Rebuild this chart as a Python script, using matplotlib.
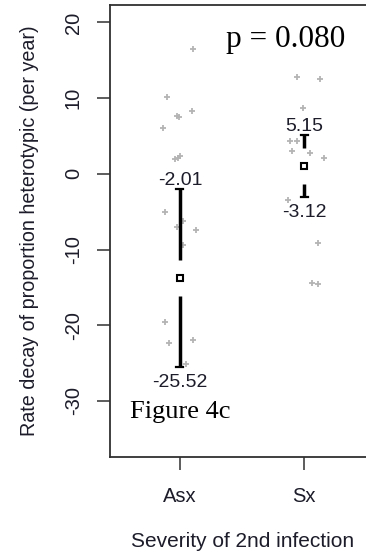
import numpy as np
import matplotlib.pyplot as plt

# Rate of decay of heterotypic proportion, by severity of 2nd infection
groups = ['Asx', 'Sx']
asx_rates = [16.5, 10.2, 7.7, 7.5, 8.3, 6.1, 2.0, 2.3, 2.1,
             -5.0, -6.2, -7.0, -7.4, -9.4, -19.6, -22.4, -21.9, -25.1]
asx_jitter = [0.107, -0.107, -0.027, -0.008, 0.094, -0.134, -0.04, 0.0, -0.016,
              -0.12, 0.022, -0.027, 0.129, 0.022, -0.12, -0.088, 0.107, 0.048]
sx_rates = [12.8, 12.5, 8.7, 4.4, 4.4, 3.0, 2.8, 2.1, -3.4, -9.1, -14.4, -14.6]
sx_jitter = [-0.061, 0.126, -0.013, -0.115, -0.061, -0.101, 0.048, 0.156,
             -0.135, 0.113, 0.06, 0.113]

ci_mean = [-13.77, 1.02]
ci_upper = [-2.01, 5.15]
ci_lower = [-25.52, -3.12]
p_value = 0.080

W, H = 366, 558
fig = plt.figure(figsize=(W / 100, H / 100), dpi=100)
# plot region in pixels: left 110, top 5, bottom 457 (right edge runs off the page)
ax = fig.add_axes([110 / W, (H - 457) / H, 264.3 / W, 452 / H])
ax.set_xlim(0.437, 2.563)
ax.set_ylim(-37.4, 22.3)

txt_col = '#1c1c2a'
for s in ax.spines.values():
    s.set_linewidth(1.3)
    s.set_color('#303030')

# jittered raw points
for i, (vals, jit) in enumerate([(asx_rates, asx_jitter), (sx_rates, sx_jitter)]):
    xs = np.array(jit) + i + 1
    ax.plot(xs, vals, linestyle='none', marker='+', markersize=5,
            markeredgewidth=1.3, color='#b4b4b4', zorder=2)

# confidence intervals with a gap around the mean marker
px_per_unit = ax.bbox.height / (22.3 + 37.4)
gap = 18 / px_per_unit
cap = 3.5 / (ax.bbox.width / (2.563 - 0.437))
for i in range(2):
    x = i + 1
    m, lo, hi = ci_mean[i], ci_lower[i], ci_upper[i]
    ax.plot([x, x], [m + gap, hi], color='black', lw=2.5, solid_capstyle='butt', zorder=3)
    ax.plot([x, x], [lo, m - gap], color='black', lw=2.5, solid_capstyle='butt', zorder=3)
    ax.plot([x - cap, x + cap], [hi, hi], color='black', lw=1.6, zorder=3)
    ax.plot([x - cap, x + cap], [lo, lo], color='black', lw=1.6, zorder=3)
    ax.plot(x, m, marker='s', markersize=4.3, markeredgewidth=1.5,
            markerfacecolor='white', markeredgecolor='black', zorder=4)
    ax.text(x, hi, '%.2f' % hi, ha='center', va='bottom', fontsize=14,
            family='Liberation Sans', color=txt_col, zorder=5)
    ax.text(x, lo - 0.9, '%.2f' % lo, ha='center', va='top', fontsize=14,
            family='Liberation Sans', color=txt_col, zorder=5)

ax.set_xticks([1, 2])
ax.set_xticklabels(groups)
ax.set_yticks([-30, -20, -10, 0, 10, 20])
ax.set_yticklabels(['-30', '-20', '-10', '0', '10', '20'], rotation=90, va='center')
ax.tick_params(axis='both', length=9.5, width=1.1, color='#303030',
               labelsize=14.5, labelcolor=txt_col)
ax.tick_params(axis='y', pad=10)
ax.tick_params(axis='x', pad=12)
for lab in ax.get_xticklabels() + ax.get_yticklabels():
    lab.set_family('Liberation Sans')

ax.set_xlabel('Severity of 2nd infection', fontsize=15, family='Liberation Sans',
              color=txt_col, va='center')
ax.xaxis.set_label_coords(0.5, -0.1875)
ax.set_ylabel('Rate decay of proportion heterotypic (per year)', fontsize=14.2,
              family='Liberation Sans', color=txt_col, va='center')
ax.yaxis.set_label_coords(-0.3027, 0.5)

fig.text(286 / W, 1 - 46.7 / H, 'p = %.3f' % p_value, ha='center', va='baseline',
         fontsize=22.5, family='Liberation Serif', color='black')
fig.text(130 / W, 1 - 418.3 / H, 'Figure 4c', ha='left', va='baseline',
         fontsize=19, family='Liberation Serif', color='black')

fig.savefig('out.png', dpi=100)
